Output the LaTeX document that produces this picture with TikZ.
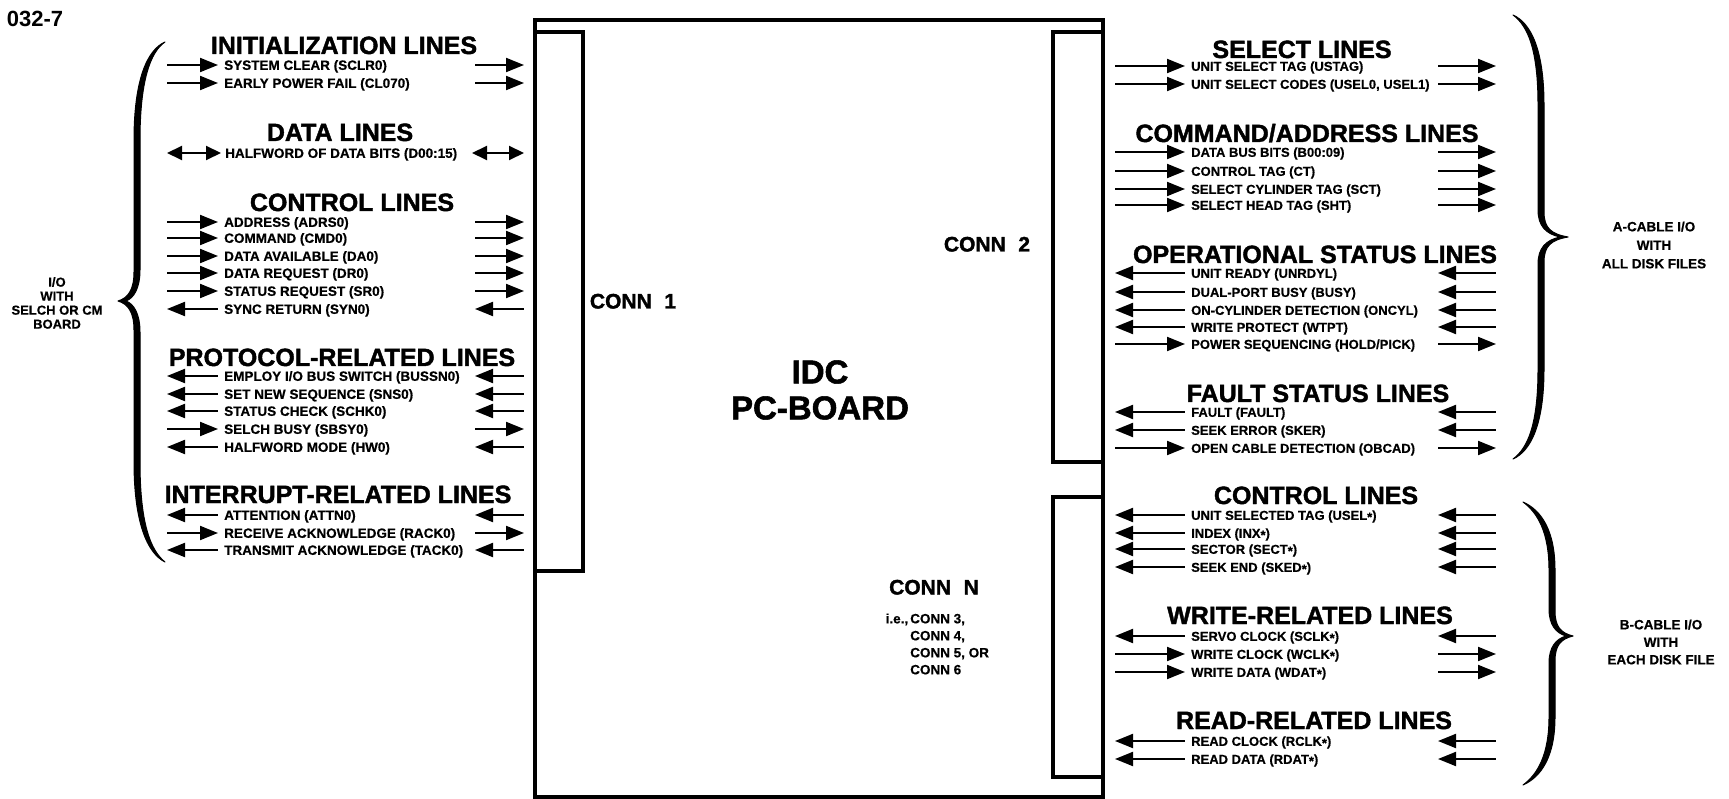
\documentclass[tikz,border=0pt]{standalone}
\usepackage{fontspec}
\setmainfont{Liberation Sans}
\newfontfamily\heavyfont[FakeBold=1.6]{Liberation Sans}
\newfontfamily\itemfont[FakeBold=0.6]{Liberation Sans}
\usetikzlibrary{arrows.meta}

\begin{document}
\begin{tikzpicture}[
  x=1pt,y=-1pt,
  every node/.style={inner sep=0pt},
  grouphead/.style={font=\fontsize{25}{25}\selectfont\heavyfont\bfseries,text height=18pt,text depth=0pt},
  sigtext/.style={anchor=west,font=\fontsize{13.5}{14}\selectfont\itemfont\bfseries,text height=9.7pt,text depth=0pt},
  sigtextB/.style={sigtext,font=\fontsize{13}{14}\selectfont\itemfont\bfseries},
  connlabel/.style={font=\fontsize{21}{21}\selectfont\heavyfont\bfseries,text height=15pt,text depth=0pt},
  bracelabel/.style={align=center},
  sigR/.style={-{Triangle[length=18pt,width=14pt]},line width=2pt},
  sigL/.style={{Triangle[length=18pt,width=14pt]}-,line width=2pt},
  sigB/.style={{Triangle[length=15pt,width=14pt]}-{Triangle[length=15pt,width=14pt]},line width=2pt},
  boardline/.style={line width=4.8pt},
  bracefill/.style={fill=black,draw=black,line width=1pt,line join=round},
]
  \useasboundingbox (0,0) rectangle (1729,799);

  % figure number
  \node[font=\fontsize{22}{22}\selectfont\bfseries] (fignum) at (35,19) {032-7};

  % IDC board with its connectors
  \draw[boardline] (535,20) rectangle (1103,797);
  \draw[boardline] (535,32) rectangle (583,571);
  \draw[boardline] (1053,32) rectangle (1103,462);
  \draw[boardline] (1053,497) rectangle (1103,777);

  \node[connlabel] (conn1) at (633,301) {CONN\hspace{0.6em}1};
  \node[connlabel] (conn2) at (987,244) {CONN\hspace{0.6em}2};
  \node[connlabel] (connN) at (934,587) {CONN\hspace{0.6em}N};
  \node[align=center,font=\fontsize{33}{36}\selectfont\heavyfont\bfseries] (pcb) at (820,390) {IDC\\PC-BOARD};
  \node[anchor=west,align=left,font=\fontsize{13.5}{17}\selectfont\itemfont\bfseries] (connlist) at (910,644)
    {\llap{i.e.,\hspace{0.15em}}CONN 3,\\CONN 4,\\CONN 5, OR\\CONN 6};

  % ---- left side: I/O with SELCH or CM board ----
  % Initialization lines
  \node[grouphead] (inithd) at (344,45) {INITIALIZATION LINES};
  \foreach \y/\txt/\da/\db [count=\i] in {65/SYSTEM CLEAR (SCLR0)/sigR/sigR,
      83/EARLY POWER FAIL (CL070)/sigR/sigR} {
    \node[sigtext] (init\i) at (224,\y) {\txt};
    \draw[\da] ([xshift=-57pt]init\i.west) -- ([xshift=-6pt]init\i.west);
    \draw[\db] ([xshift=251pt]init\i.west) -- ([xshift=300pt]init\i.west);
  }

  % Data lines
  \node[grouphead] (datahd) at (340,132) {DATA LINES};
  \node[sigtext] (data1) at (225,153) {HALFWORD OF DATA BITS (D00:15)};
  \draw[sigB] ([xshift=-58pt]data1.west) -- ([xshift=-4pt]data1.west);
  \draw[sigB] ([xshift=247pt]data1.west) -- ([xshift=299pt]data1.west);

  % Control lines
  \node[grouphead] (ctlhd) at (352,202) {CONTROL LINES};
  \foreach \y/\txt/\da/\db [count=\i] in {222/ADDRESS (ADRS0)/sigR/sigR,
      238/COMMAND (CMD0)/sigR/sigR, 256/DATA AVAILABLE (DA0)/sigR/sigR,
      273/DATA REQUEST (DR0)/sigR/sigR, 291/STATUS REQUEST (SR0)/sigR/sigR,
      309/SYNC RETURN (SYN0)/sigL/sigL} {
    \node[sigtext] (ctl\i) at (224,\y) {\txt};
    \draw[\da] ([xshift=-57pt]ctl\i.west) -- ([xshift=-6pt]ctl\i.west);
    \draw[\db] ([xshift=251pt]ctl\i.west) -- ([xshift=300pt]ctl\i.west);
  }

  % Protocol-related lines
  \node[grouphead] (prothd) at (342,357) {PROTOCOL-RELATED LINES};
  \foreach \y/\txt/\da/\db [count=\i] in {376/{EMPLOY I/O BUS SWITCH (BUSSN0)}/sigL/sigL,
      394/SET NEW SEQUENCE (SNS0)/sigL/sigL, 411/STATUS CHECK (SCHK0)/sigL/sigL,
      429/SELCH BUSY (SBSY0)/sigR/sigR, 447/HALFWORD MODE (HW0)/sigL/sigL} {
    \node[sigtext] (prot\i) at (224,\y) {\txt};
    \draw[\da] ([xshift=-57pt]prot\i.west) -- ([xshift=-6pt]prot\i.west);
    \draw[\db] ([xshift=251pt]prot\i.west) -- ([xshift=300pt]prot\i.west);
  }

  % Interrupt-related lines
  \node[grouphead] (inthd) at (338,494) {INTERRUPT-RELATED LINES};
  \foreach \y/\txt/\da/\db [count=\i] in {515/ATTENTION (ATTN0)/sigL/sigL,
      533/RECEIVE ACKNOWLEDGE (RACK0)/sigR/sigR, 550/TRANSMIT ACKNOWLEDGE (TACK0)/sigL/sigL} {
    \node[sigtext] (int\i) at (224,\y) {\txt};
    \draw[\da] ([xshift=-57pt]int\i.west) -- ([xshift=-6pt]int\i.west);
    \draw[\db] ([xshift=251pt]int\i.west) -- ([xshift=300pt]int\i.west);
  }

  % ---- right side: A-cable ----
  \node[grouphead] (selhd) at (1302,49) {SELECT LINES};
  \foreach \y/\txt/\da/\db [count=\i] in {66/UNIT SELECT TAG (USTAG)/sigR/sigR,
      84/{UNIT SELECT CODES (USEL0, USEL1)}/sigR/sigR} {
    \node[sigtextB] (sel\i) at (1191,\y) {\txt};
    \draw[\da] ([xshift=-76pt]sel\i.west) -- ([xshift=-6pt]sel\i.west);
    \draw[\db] ([xshift=247pt]sel\i.west) -- ([xshift=305pt]sel\i.west);
  }

  \node[grouphead] (cmdhd) at (1307,133) {COMMAND/ADDRESS LINES};
  \foreach \y/\txt/\da/\db [count=\i] in {152/DATA BUS BITS (B00:09)/sigR/sigR,
      171/CONTROL TAG (CT)/sigR/sigR, 189/SELECT CYLINDER TAG (SCT)/sigR/sigR,
      205/SELECT HEAD TAG (SHT)/sigR/sigR} {
    \node[sigtextB] (cmd\i) at (1191,\y) {\txt};
    \draw[\da] ([xshift=-76pt]cmd\i.west) -- ([xshift=-6pt]cmd\i.west);
    \draw[\db] ([xshift=247pt]cmd\i.west) -- ([xshift=305pt]cmd\i.west);
  }

  \node[grouphead] (ophd) at (1315,254) {OPERATIONAL STATUS LINES};
  \foreach \y/\txt/\da/\db [count=\i] in {273/UNIT READY (UNRDYL)/sigL/sigL,
      292/DUAL-PORT BUSY (BUSY)/sigL/sigL, 310/ON-CYLINDER DETECTION (ONCYL)/sigL/sigL,
      327/WRITE PROTECT (WTPT)/sigL/sigL, 344/{POWER SEQUENCING (HOLD/PICK)}/sigR/sigR} {
    \node[sigtextB] (op\i) at (1191,\y) {\txt};
    \draw[\da] ([xshift=-76pt]op\i.west) -- ([xshift=-6pt]op\i.west);
    \draw[\db] ([xshift=247pt]op\i.west) -- ([xshift=305pt]op\i.west);
  }

  \node[grouphead] (flthd) at (1318,393) {FAULT STATUS LINES};
  \foreach \y/\txt/\da/\db [count=\i] in {412/FAULT (FAULT)/sigL/sigL,
      430/SEEK ERROR (SKER)/sigL/sigL, 448/OPEN CABLE DETECTION (OBCAD)/sigR/sigR} {
    \node[sigtextB] (flt\i) at (1191,\y) {\txt};
    \draw[\da] ([xshift=-76pt]flt\i.west) -- ([xshift=-6pt]flt\i.west);
    \draw[\db] ([xshift=247pt]flt\i.west) -- ([xshift=305pt]flt\i.west);
  }

  % ---- right side: B-cable ----
  \node[grouphead] (bctlhd) at (1316,495) {CONTROL LINES};
  \foreach \y/\txt/\da/\db [count=\i] in {515/UNIT SELECTED TAG (USEL\raisebox{-0.25ex}{*})/sigL/sigL,
      533/INDEX (INX\raisebox{-0.25ex}{*})/sigL/sigL, 549/SECTOR (SECT\raisebox{-0.25ex}{*})/sigL/sigL,
      567/SEEK END (SKED\raisebox{-0.25ex}{*})/sigL/sigL} {
    \node[sigtextB] (bctl\i) at (1191,\y) {\txt};
    \draw[\da] ([xshift=-76pt]bctl\i.west) -- ([xshift=-6pt]bctl\i.west);
    \draw[\db] ([xshift=247pt]bctl\i.west) -- ([xshift=305pt]bctl\i.west);
  }

  \node[grouphead] (wrhd) at (1310,615) {WRITE-RELATED LINES};
  \foreach \y/\txt/\da/\db [count=\i] in {636/SERVO CLOCK (SCLK\raisebox{-0.25ex}{*})/sigL/sigL,
      654/WRITE CLOCK (WCLK\raisebox{-0.25ex}{*})/sigR/sigR, 672/WRITE DATA (WDAT\raisebox{-0.25ex}{*})/sigR/sigR} {
    \node[sigtextB] (wr\i) at (1191,\y) {\txt};
    \draw[\da] ([xshift=-76pt]wr\i.west) -- ([xshift=-6pt]wr\i.west);
    \draw[\db] ([xshift=247pt]wr\i.west) -- ([xshift=305pt]wr\i.west);
  }

  \node[grouphead] (rdhd) at (1314,720) {READ-RELATED LINES};
  \foreach \y/\txt/\da/\db [count=\i] in {741/READ CLOCK (RCLK\raisebox{-0.25ex}{*})/sigL/sigL,
      759/READ DATA (RDAT\raisebox{-0.25ex}{*})/sigL/sigL} {
    \node[sigtextB] (rd\i) at (1191,\y) {\txt};
    \draw[\da] ([xshift=-76pt]rd\i.west) -- ([xshift=-6pt]rd\i.west);
    \draw[\db] ([xshift=247pt]rd\i.west) -- ([xshift=305pt]rd\i.west);
  }

  % braces
  \filldraw[bracefill] (165,42) .. controls (147,50) and (134,80) .. (134,140)
    -- (134,272) .. controls (134,290) and (128,298) .. (118,301)
    .. controls (128,304) and (134,312) .. (134,330)
    -- (134,462) .. controls (134,522) and (147,553) .. (165,562)
    .. controls (150,550) and (140,522) .. (140,462)
    -- (140,332) .. controls (140,314) and (134,304) .. (126,301)
    .. controls (134,298) and (140,288) .. (140,270)
    -- (140,140) .. controls (140,82) and (150,52) .. (165,42) -- cycle;
  \filldraw[bracefill] (1513,15) .. controls (1531,23) and (1544,50) .. (1544,105)
    -- (1544,212) .. controls (1544,228) and (1551,234) .. (1568,237)
    .. controls (1551,240) and (1544,246) .. (1544,262)
    -- (1544,369) .. controls (1544,424) and (1531,451) .. (1513,459)
    .. controls (1528,448) and (1538,424) .. (1538,369)
    -- (1538,264) .. controls (1538,248) and (1546,240) .. (1560,237)
    .. controls (1546,234) and (1538,226) .. (1538,210)
    -- (1538,105) .. controls (1538,50) and (1528,26) .. (1513,15) -- cycle;
  \filldraw[bracefill] (1523,502) .. controls (1541,510) and (1555,530) .. (1555,570)
    -- (1555,611) .. controls (1555,627) and (1561,633) .. (1573,636)
    .. controls (1561,639) and (1555,645) .. (1555,661)
    -- (1555,717) .. controls (1555,757) and (1541,777) .. (1523,785)
    .. controls (1538,774) and (1549,754) .. (1549,717)
    -- (1549,663) .. controls (1549,647) and (1556,639) .. (1566,636)
    .. controls (1556,633) and (1549,625) .. (1549,609)
    -- (1549,570) .. controls (1549,533) and (1538,513) .. (1523,502) -- cycle;

  \node[bracelabel,font=\fontsize{13}{14}\selectfont\itemfont\bfseries] (hostio) at (57,303)
    {I/O\\WITH\\SELCH OR CM\\BOARD};
  \node[bracelabel,font=\fontsize{13.5}{18.5}\selectfont\itemfont\bfseries] (acable) at (1654,245)
    {A-CABLE I/O\\WITH\\ALL DISK FILES};
  \node[bracelabel,font=\fontsize{13.5}{17.5}\selectfont\itemfont\bfseries] (bcable) at (1661,642)
    {B-CABLE I/O\\WITH\\EACH DISK FILE};
\end{tikzpicture}
\end{document}
